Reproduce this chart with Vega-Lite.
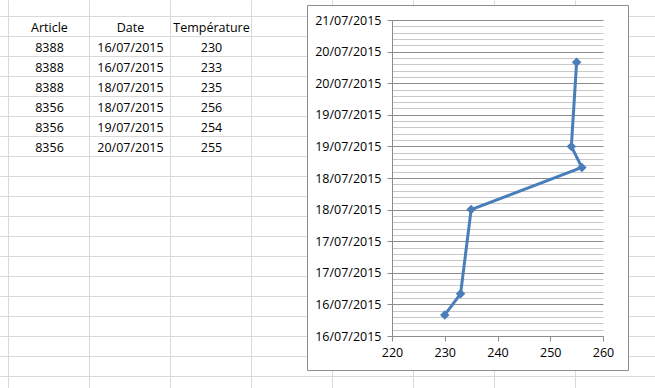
{
  "$schema": "https://vega.github.io/schema/vega-lite/v6.json",
  "background": "white",
  "padding": 0,
  "autosize": {"type": "pad"},
  "config": {"view": {"stroke": null}, "font": "Open Sans"},
  "datasets": {
    "releves": [
      {"Article": 8388, "Date": "16/07/2015", "Température": 230, "Horodatage": "2015-07-16T08:00:00Z"},
      {"Article": 8388, "Date": "16/07/2015", "Température": 233, "Horodatage": "2015-07-16T16:00:00Z"},
      {"Article": 8388, "Date": "18/07/2015", "Température": 235, "Horodatage": "2015-07-18T00:00:00Z"},
      {"Article": 8356, "Date": "18/07/2015", "Température": 256, "Horodatage": "2015-07-18T16:00:00Z"},
      {"Article": 8356, "Date": "19/07/2015", "Température": 254, "Horodatage": "2015-07-19T00:00:00Z"},
      {"Article": 8356, "Date": "20/07/2015", "Température": 255, "Horodatage": "2015-07-20T08:00:00Z"}
    ]
  },
  "bounds": "flush",
  "spacing": 0,
  "hconcat": [
    {
      "width": 307,
      "height": 388,
      "data": {"name": "releves"},
      "transform": [
        {"window": [{"op": "row_number", "as": "rang"}]},
        {"fold": ["Article", "Date", "Température"], "as": ["colonne", "valeur"]}
      ],
      "layer": [
        {
          "mark": {"type": "text", "font": "Open Sans", "fontSize": 12.5, "color": "#000000"},
          "encoding": {
            "x": {
              "field": "colonne", "type": "nominal", "bandPosition": 0.611,
              "scale": {"type": "band", "domain": ["Article", "Date", "Température", "D", "E", "F", "G", "H"], "range": [0, 655], "paddingInner": 0, "paddingOuter": 0.0432, "align": 0},
              "axis": {"grid": true, "bandPosition": 0.111, "gridColor": "#d9d9d9", "labels": false, "ticks": false, "domain": false, "title": null}
            },
            "y": {
              "field": "rang", "type": "ordinal", "bandPosition": 0.42,
              "scale": {"type": "band", "domain": [-1, 0, 1, 2, 3, 4, 5, 6, 7, 8, 9, 10, 11, 12, 13, 14, 15, 16, 17], "paddingInner": 0, "paddingOuter": 0.2, "align": 0},
              "axis": {"grid": true, "bandPosition": 0.8, "gridColor": "#d9d9d9", "labels": false, "ticks": false, "domain": false, "title": null}
            },
            "text": {"field": "valeur", "type": "nominal"}
          }
        },
        {
          "transform": [{"filter": "datum.rang === 1"}],
          "mark": {"type": "text", "font": "Open Sans", "fontSize": 12.5, "color": "#000000"},
          "encoding": {
            "x": {"field": "colonne", "type": "nominal", "bandPosition": 0.611},
            "y": {"datum": 0, "type": "ordinal", "bandPosition": 0.42},
            "text": {"field": "colonne", "type": "nominal"}
          }
        }
      ]
    },
    {
      "bounds": "flush",
      "spacing": 4,
      "vconcat": [
        {
          "width": 321,
          "height": 1,
          "data": {"values": []},
          "mark": {"type": "point", "opacity": 0}
        },
        {
          "width": 321,
          "height": 365,
          "view": {"fill": "white", "stroke": "#8c8c8c", "strokeWidth": 1},
          "data": {"name": "releves"},
          "encoding": {
            "x": {
              "field": "Température", "type": "quantitative",
              "scale": {"domain": [220, 260], "range": [85, 296], "nice": false, "zero": false},
              "axis": {
                "orient": "bottom", "offset": -34, "values": [220, 230, 240, 250, 260],
                "grid": false, "domainColor": "#8c8c8c", "tickColor": "#8c8c8c", "tickSize": 5,
                "labelFont": "Open Sans", "labelFontSize": 12.5, "labelColor": "#000000", "labelPadding": 5,
                "labelFlush": false, "labelOverlap": false, "title": null
              }
            },
            "y": {
              "field": "Horodatage", "type": "temporal",
              "scale": {
                "type": "utc", "nice": false,
                "domain": [{"year": 2015, "month": 7, "date": 16, "utc": true}, {"year": 2015, "month": 7, "date": 21, "utc": true}],
                "range": [331, 15]
              },
              "axis": {
                "orient": "left", "offset": -85,
                "values": {"expr": "sequence(utc(2015,6,16), utc(2015,6,21) + 1, 8640000)"},
                "labelExpr": "(+datum.value - utc(2015,6,16)) % 43200000 === 0 ? utcFormat(datum.value, '%d/%m/%Y') : ''",
                "grid": true,
                "gridColor": {"condition": {"test": "(+datum.value - utc(2015,6,16)) % 43200000 === 0", "value": "#8c8c8c"}, "value": "#c8c8c8"},
                "tickOpacity": {"condition": {"test": "(+datum.value - utc(2015,6,16)) % 43200000 === 0", "value": 1}, "value": 0},
                "tickColor": "#8c8c8c", "tickSize": 5,
                "domainColor": "#8c8c8c",
                "labelFont": "Open Sans", "labelFontSize": 12.5, "labelColor": "#000000", "labelPadding": 6,
                "labelOverlap": false, "labelBound": false, "title": null
              }
            },
            "order": {"field": "Horodatage", "type": "temporal"}
          },
          "layer": [
            {"mark": {"type": "line", "color": "#4a7ebb", "strokeWidth": 3, "strokeJoin": "round"}},
            {"mark": {"type": "point", "shape": "diamond", "filled": true, "size": 90, "color": "#4a7ebb", "opacity": 1}}
          ]
        }
      ]
    }
  ]
}
